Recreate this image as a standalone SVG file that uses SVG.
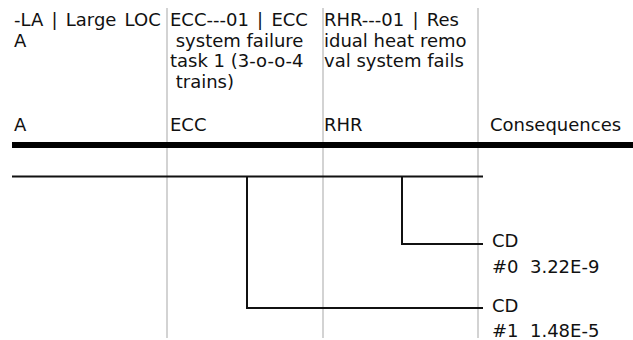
<svg xmlns="http://www.w3.org/2000/svg" width="633" height="340" viewBox="0 0 633 340">
  <style>
    text { font-family: "DejaVu Sans", "Liberation Sans", sans-serif; font-size: 18px; fill: #111; white-space: pre; }
    .id { word-spacing: 2.5px; }
    .col { stroke: #c4c4c4; stroke-width: 1.5; fill: none; }
    .tree { stroke: #111; stroke-width: 2; fill: none; }
  </style>
  <rect width="633" height="340" fill="#fff"/>

  <!-- column separators -->
  <g id="columns">
    <line class="col" x1="167" y1="8" x2="167" y2="338"/>
    <line class="col" x1="323" y1="8" x2="323" y2="338"/>
    <line class="col" x1="478" y1="8" x2="478" y2="338"/>
  </g>

  <!-- column headings -->
  <g id="head-LA">
    <text class="id" x="14" y="26">-LA | Large LOC</text>
    <text x="14" y="47">A</text>
    <text x="14" y="131">A</text>
  </g>
  <g id="head-ECC">
    <text class="id" x="170" y="26">ECC---01 | ECC</text>
    <text x="170" y="47"> system failure</text>
    <text x="170" y="67">task 1 (3-o-o-4</text>
    <text x="170" y="88"> trains)</text>
    <text x="170" y="131">ECC</text>
  </g>
  <g id="head-RHR">
    <text class="id" x="324" y="26">RHR---01 | Res</text>
    <text x="324" y="47">idual heat remo</text>
    <text x="324" y="67">val system fails</text>
    <text x="324" y="131">RHR</text>
  </g>
  <g id="head-consequences">
    <text x="490" y="131">Consequences</text>
  </g>

  <!-- heading rule -->
  <rect x="12" y="142" width="621" height="6" fill="#000"/>

  <!-- event tree branches -->
  <g id="connectors">
    <path class="tree" d="M12 176.5 H483"/>
    <path class="tree" d="M247 176.5 V308 H483"/>
    <path class="tree" d="M402 176.5 V244 H483"/>
  </g>

  <!-- end states -->
  <g id="seq-0">
    <text x="492" y="247">CD</text>
    <text x="492" y="273">#0  3.22E-9</text>
  </g>
  <g id="seq-1">
    <text x="492" y="312">CD</text>
    <text x="492" y="337">#1  1.48E-5</text>
  </g>
</svg>
